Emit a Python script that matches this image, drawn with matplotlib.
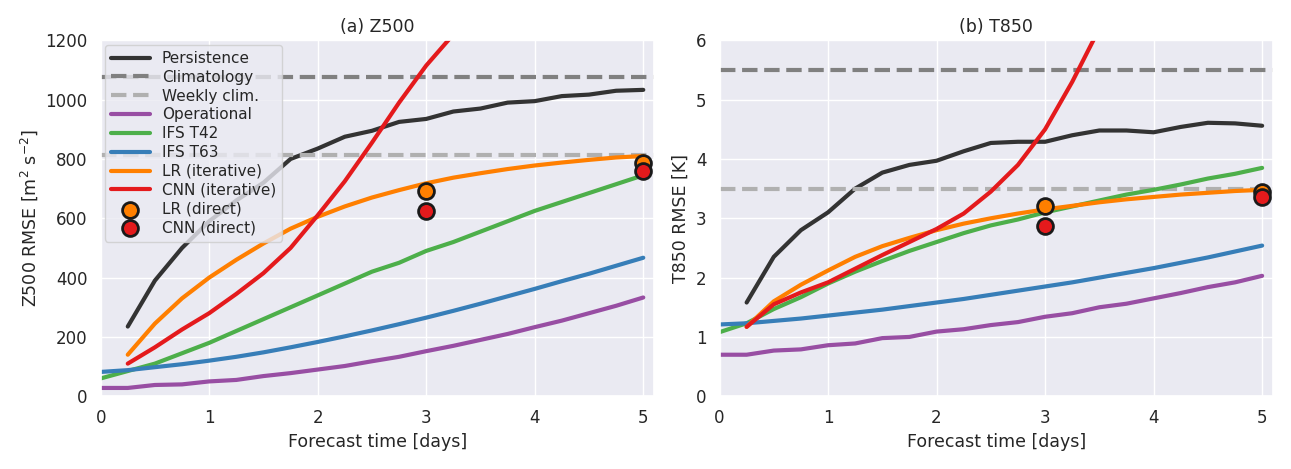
import numpy as np
import matplotlib
matplotlib.use("Agg")
import matplotlib.pyplot as plt
import seaborn as sns

sns.set_theme(style="darkgrid")
plt.rcParams['font.family'] = ['DejaVu Sans']
plt.rcParams.update({'axes.labelsize': 12.5, 'axes.titlesize': 12.5,
                     'xtick.labelsize': 12, 'ytick.labelsize': 12})

t0 = np.arange(0, 5.01, 0.25)
t1 = t0[1:]

# Z500
z_pers = [235, 390, 500, 590, 660, 720, 800, 835, 875, 895, 925, 935, 960, 970, 990, 995, 1012, 1017, 1030, 1033]
z_clim = 1075
z_week = 815
z_oper = [28, 28, 38, 40, 50, 55, 68, 78, 90, 102, 118, 133, 152, 170, 190, 210, 233, 255, 280, 305, 333]
z_t42 = [60, 85, 110, 145, 180, 220, 260, 300, 340, 380, 420, 450, 490, 520, 555, 590, 625, 655, 685, 715, 745]
z_t63 = [82, 88, 98, 108, 120, 133, 148, 165, 183, 202, 222, 243, 265, 288, 312, 337, 362, 388, 413, 440, 467]
z_lr = [140, 245, 330, 400, 460, 515, 565, 605, 640, 670, 695, 718, 737, 752, 766, 778, 788, 797, 805, 810]
z_cnn = [110, 165, 225, 280, 345, 415, 500, 610, 725, 855, 990, 1115, 1220, 1330, 1440, 1550, 1660, 1770, 1880, 1990]
z_lr_dir = [693, 785]
z_cnn_dir = [625, 760]

# T850
t_pers = [1.58, 2.35, 2.8, 3.1, 3.5, 3.77, 3.9, 3.97, 4.13, 4.27, 4.29, 4.29, 4.4, 4.48, 4.48, 4.45, 4.54, 4.61, 4.6, 4.56]
t_clim = 5.5
t_week = 3.5
t_oper = [0.7, 0.7, 0.77, 0.79, 0.86, 0.89, 0.98, 1.0, 1.09, 1.13, 1.2, 1.25, 1.34, 1.4, 1.5, 1.56, 1.65, 1.74, 1.84, 1.92, 2.03]
t_t42 = [1.08, 1.23, 1.47, 1.67, 1.9, 2.1, 2.28, 2.45, 2.6, 2.75, 2.88, 2.98, 3.1, 3.2, 3.3, 3.4, 3.48, 3.57, 3.67, 3.75, 3.85]
t_t63 = [1.21, 1.23, 1.27, 1.31, 1.36, 1.41, 1.46, 1.52, 1.58, 1.64, 1.71, 1.78, 1.85, 1.92, 2.0, 2.08, 2.16, 2.25, 2.34, 2.44, 2.54]
t_lr = [1.17, 1.6, 1.88, 2.12, 2.35, 2.53, 2.67, 2.8, 2.91, 3.0, 3.08, 3.15, 3.21, 3.27, 3.32, 3.36, 3.4, 3.43, 3.46, 3.48]
t_cnn = [1.17, 1.55, 1.75, 1.92, 2.15, 2.38, 2.6, 2.82, 3.08, 3.45, 3.9, 4.5, 5.3, 6.2, 7.1, 8.0, 8.9, 9.8, 10.7, 11.6]
t_lr_dir = [3.2, 3.45]
t_cnn_dir = [2.87, 3.36]
dir_days = [3, 5]

c_pers, c_gray = '#333333', 'gray'
c_oper, c_t42, c_t63 = '#984ea3', '#4daf4a', '#377eb8'
c_lr, c_cnn = '#ff7f00', '#e41a1c'


def panel(ax, pers, clim, week, oper, t42, t63, lr, cnn, lrd, cnnd):
    lw = 3
    ax.plot(t1, pers, color=c_pers, lw=lw, label='Persistence')
    ax.axhline(clim, color=c_gray, lw=lw, ls='--', label='Climatology')
    ax.axhline(week, color='#b0b0b0', lw=lw, ls='--', label='Weekly clim.')
    ax.plot(t0, oper, color=c_oper, lw=lw, label='Operational')
    ax.plot(t0, t42, color=c_t42, lw=lw, label='IFS T42')
    ax.plot(t0, t63, color=c_t63, lw=lw, label='IFS T63')
    ax.plot(t1, lr, color=c_lr, lw=lw, label='LR (iterative)')
    ax.plot(t1, cnn, color=c_cnn, lw=lw, label='CNN (iterative)')
    ax.scatter(dir_days, lrd, s=130, color=c_lr, edgecolor='k', lw=2, zorder=5, label='LR (direct)')
    ax.scatter(dir_days, cnnd, s=130, color=c_cnn, edgecolor='k', lw=2, zorder=5, label='CNN (direct)')
    ax.set_xlim(0, 5.1)
    ax.set_xlabel('Forecast time [days]')


fig, (ax1, ax2) = plt.subplots(1, 2, figsize=(12.91, 4.69), dpi=100)
panel(ax1, z_pers, z_clim, z_week, z_oper, z_t42, z_t63, z_lr, z_cnn, z_lr_dir, z_cnn_dir)
ax1.set_ylim(0, 1200)
ax1.set_ylabel(r'Z500 RMSE [m$^2$ s$^{-2}$]')
ax1.set_title('(a) Z500')
ax1.legend(loc='upper left', fontsize=11, framealpha=0.8, borderaxespad=0.3,
           labelspacing=0.25, handlelength=2.5)

panel(ax2, t_pers, t_clim, t_week, t_oper, t_t42, t_t63, t_lr, t_cnn, t_lr_dir, t_cnn_dir)
ax2.set_ylim(0, 6)
ax2.set_ylabel('T850 RMSE [K]')
ax2.set_title('(b) T850')

plt.tight_layout()
plt.savefig('out.png')
